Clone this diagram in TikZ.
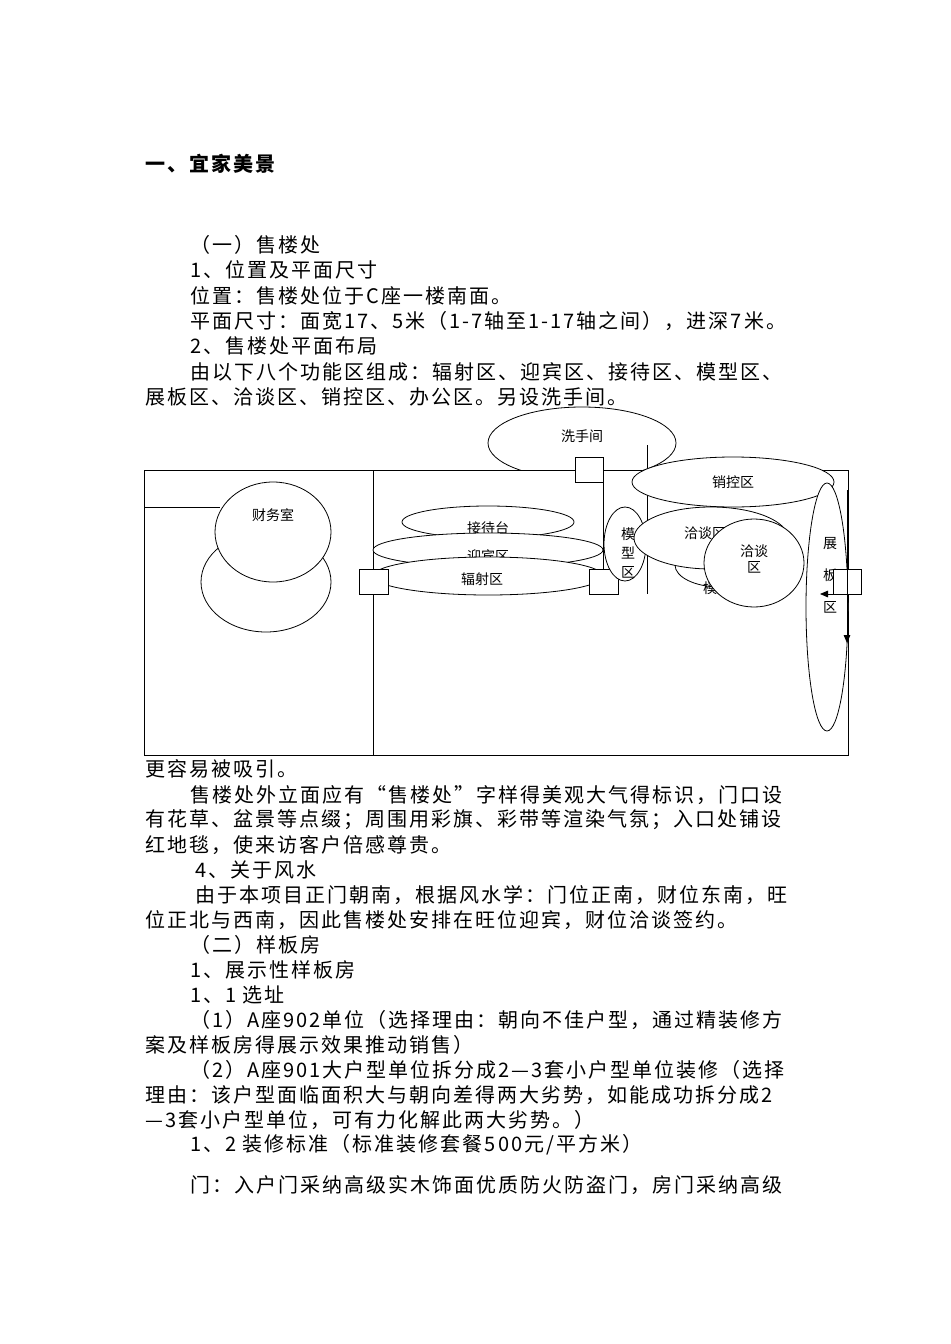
\documentclass[tikz,border=0pt]{standalone}
\usepackage{fontspec}
\setmainfont{Noto Sans CJK SC}
\newfontfamily\bodyfont[LetterSpace=10]{Noto Sans CJK SC}
\usetikzlibrary{arrows.meta}
\begin{document}
\begin{tikzpicture}[x=0.75pt,y=-0.75pt,
  body/.style={anchor=west,inner sep=0,font=\bodyfont\fontsize{15}{16}\selectfont},
  lab/.style={inner sep=0,font=\fontsize{10.5}{12}\selectfont},
  shp/.style={draw,fill=white,line width=0.6pt}]
\useasboundingbox[fill=white] (0,0) rectangle (950,1344);
\node[body,font=\bodyfont\fontsize{15}{16}\selectfont\bfseries] (t0) at (145,164) {一、宜家美景};
\node[body] (t1) at (190,245) {（一）售楼处};
\node[body] (t2) at (190,270) {1、位置及平面尺寸};
\node[body] (t3) at (190,296) {位置：售楼处位于C座一楼南面。};
\node[body] (t4) at (190,321) {平面尺寸：面宽17、5米（1-7轴至1-17轴之间），进深7米。};
\node[body] (t5) at (190,346) {2、售楼处平面布局};
\node[body] (t6) at (190,372) {由以下八个功能区组成：辐射区、迎宾区、接待区、模型区、};
\node[body] (t7) at (145,397) {展板区、洽谈区、销控区、办公区。另设洗手间。};
\node[body] (t8) at (145,769) {更容易被吸引。};
\node[body] (t9) at (190,795) {售楼处外立面应有“售楼处”字样得美观大气得标识，门口设};
\node[body] (t10) at (145,820) {有花草、盆景等点缀；周围用彩旗、彩带等渲染气氛；入口处铺设};
\node[body] (t11) at (145,845) {红地毯，使来访客户倍感尊贵。};
\node[body] (t12) at (195,870) {4、关于风水};
\node[body] (t13) at (195,895) {由于本项目正门朝南，根据风水学：门位正南，财位东南，旺};
\node[body] (t14) at (145,920) {位正北与西南，因此售楼处安排在旺位迎宾，财位洽谈签约。};
\node[body] (t15) at (190,945) {（二）样板房};
\node[body] (t16) at (190,970) {1、展示性样板房};
\node[body] (t17) at (190,995) {1、1 选址};
\node[body] (t18) at (190,1020) {（1）A座902单位（选择理由：朝向不佳户型，通过精装修方};
\node[body] (t19) at (145,1045) {案及样板房得展示效果推动销售）};
\node[body] (t20) at (190,1070) {（2）A座901大户型单位拆分成2—3套小户型单位装修（选择};
\node[body] (t21) at (145,1095) {理由：该户型面临面积大与朝向差得两大劣势，如能成功拆分成2};
\node[body] (t22) at (145,1120) {—3套小户型单位，可有力化解此两大劣势。）};
\node[body] (t23) at (190,1145) {1、2 装修标准（标准装修套餐500元/平方米）};
\node[body] (t24) at (190,1185) {门：入户门采纳高级实木饰面优质防火防盗门，房门采纳高级};
% diagram
\draw[shp] (582,443) ellipse (94 and 36);
\node[lab] (wc) at (582,436) {洗手间};
\draw[shp] (144,470) rectangle (848,755);
\draw[line width=0.6pt] (373,470) -- (373,755);
\draw[line width=0.6pt] (144,507) -- (220,507);
\draw[shp] (266,582) ellipse (65 and 50);
\draw[shp] (273,532) ellipse (58 and 50);
\node[lab] (cw) at (273,515) {财务室};
\draw[shp] (488,522) ellipse (86 and 16);
\node[lab] (jd) at (488,528) {接待台};
\draw[shp] (488,550) ellipse (115 and 17);
\node[lab] (yb) at (488,556) {迎宾区};
\draw[shp] (488,576) ellipse (115 and 19);
\node[lab] (fs) at (482,579) {辐射区};
\draw[line width=0.6pt] (603,482) -- (603,570);
\draw[shp] (575,457) rectangle (603,482);
\draw[shp] (359,569) rectangle (388,594);
\draw[shp] (589,569) rectangle (618,594);
\draw[shp] (625,544) ellipse (21 and 37);
\node[lab,align=center] (mx) at (628,553) {模\\[2pt]型\\[2pt]区};
\draw[line width=0.6pt] (647,445) -- (647,594);
\draw[shp] (733,482) ellipse (101 and 25);
\node[lab] (xk) at (733,482) {销控区};
\draw[shp] (720,565) ellipse (45 and 22);
\node[lab] (m3) at (710,588) {模};
\draw[shp] (711,538) ellipse (77 and 31);
\node[lab] (qt1) at (705,533) {洽谈区};
\draw[shp] (754,563) ellipse (50 and 44);
\node[lab,align=center] (qt2) at (754,559) {洽谈\\区};
\draw[shp] (827,607) ellipse (21 and 124);
\node[lab,align=center] (zb) at (830,575) {展\\[12pt]板\\[12pt]区};
\draw[shp] (833,569) rectangle (861,594);
\coordinate (a1) at (847,490); \coordinate (a2) at (847,643);
\draw[line width=0.6pt,-{Triangle[length=6pt,width=5pt]}] (a1) -- (a2);
\coordinate (b1) at (861,594); \coordinate (b2) at (820,594);
\draw[line width=0.6pt,-{Triangle[length=6pt,width=5pt]}] (b1) -- (b2);
\end{tikzpicture}
\end{document}
